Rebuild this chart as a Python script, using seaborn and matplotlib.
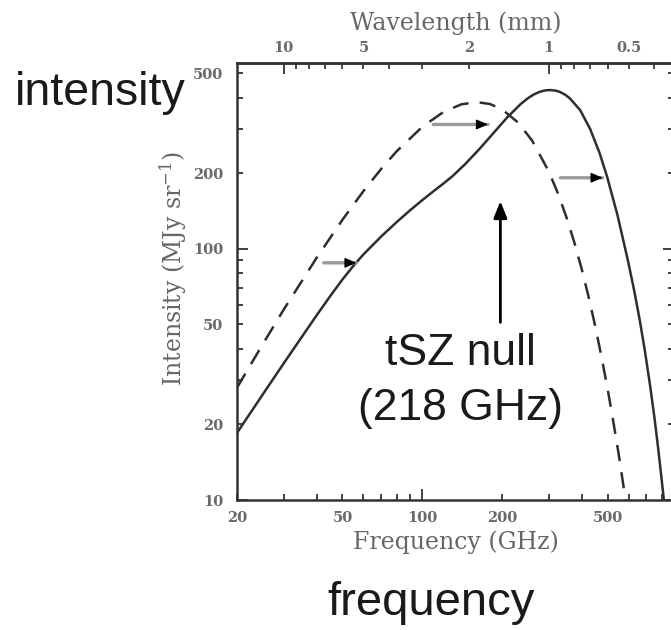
import numpy as np
import matplotlib
matplotlib.use("Agg")
import matplotlib.pyplot as plt
import matplotlib.ticker as mticker
import seaborn as sns

# undistorted CMB spectrum (dashed)
freq_cmb = [20, 25, 30, 40, 50, 60, 70, 80, 100, 120, 140, 160, 180, 200, 230, 260,
            300, 325, 350, 375, 400, 425, 450, 475, 500, 525, 550, 575, 600]
int_cmb = [28.0, 41.7, 57.3, 92.4, 130.7, 170.0, 208.4, 244.6, 306.4, 350.6, 376.2, 384.3,
           377.6, 359.4, 318.4, 269.2, 203.3, 166.1, 133.3, 105.6, 82.5, 63.7, 48.7, 36.8,
           27.7, 20.6, 15.3, 11.2, 8.2]

# SZ-distorted spectrum (solid)
freq_sz = [20, 25, 30, 35, 40, 45, 50, 55, 60, 70, 80, 90, 100, 110, 120, 130, 145, 165,
           190, 209, 235, 250, 262, 275, 285, 295, 305, 318, 330, 345, 360, 394, 430, 466,
           497, 545, 598, 630, 660, 690, 722, 750, 776, 808, 830]
int_sz = [18.5, 26.3, 35.0, 44.4, 54.5, 65.0, 75.6, 85.7, 95.1, 112.1, 127.8, 142.6, 156.4,
          169.4, 181.9, 194.9, 217.4, 251.3, 297.7, 333.8, 377.5, 397.9, 410.8, 420.9, 425.9,
          428.5, 429.1, 427, 422, 411.8, 398, 357, 299.7, 241.3, 195, 136.1, 88.8, 68.1,
          52.5, 39.7, 28.9, 21.5, 16.0, 10.9, 8.3]

# small grey shift arrows (start freq, end freq, intensity)
shift_start = [42.5, 110, 332]
shift_end = [56.5, 177, 479]
shift_level = [88, 313, 192]

# tSZ null arrow
null_freq = 197
null_from = 51
null_to = 155

XLIM = (20, 890)
YLIM = (10, 550)

sns.set_style("ticks")
plt.rcParams["font.family"] = ["DejaVu Serif"]
plt.rcParams["mathtext.fontset"] = "dejavuserif"

W, H = 671, 630
fig = plt.figure(figsize=(W / 100, H / 100), dpi=100)
ax = fig.add_axes([237 / W, 130 / H, 437 / W, 437 / H])

sns.lineplot(x=freq_cmb, y=int_cmb, ax=ax, color="#2e2e2e", lw=1.8,
             linestyle=(0, (6.5, 4.5)))
sns.lineplot(x=freq_sz, y=int_sz, ax=ax, color="#2e2e2e", lw=1.8)

ax.set_xscale("log")
ax.set_yscale("log")
ax.set_xlim(*XLIM)
ax.set_ylim(*YLIM)


def make_fmt(lo, hi):
    def fmt(v, pos=None):
        if v <= 0 or v < lo * 0.999 or v > hi * 1.001:
            return ""
        m = v / 10 ** np.floor(np.log10(v) + 1e-9)
        if abs(m - round(m)) < 1e-6 and round(m) in (1, 2, 5):
            return f"{v:g}"
        return ""
    return fmt


def style_axis(axis, lo, hi):
    axis.set_major_locator(mticker.LogLocator(base=10))
    axis.set_minor_locator(mticker.LogLocator(base=10, subs=np.arange(2, 10)))
    axis.set_major_formatter(mticker.FuncFormatter(make_fmt(lo, hi)))
    axis.set_minor_formatter(mticker.FuncFormatter(make_fmt(lo, hi)))


style_axis(ax.xaxis, *XLIM)
style_axis(ax.yaxis, *YLIM)

tick_kw = dict(which="both", direction="in", color="#333333", width=1.3,
               labelsize=10.5, labelcolor="#6a6a6a")
ax.tick_params(top=False, right=True, **tick_kw)
ax.tick_params(which="major", length=8)
ax.tick_params(which="minor", length=4)
ax.tick_params(axis="x", which="both", pad=8)
ax.tick_params(axis="y", which="both", pad=10)
for lab in ax.get_xticklabels(which="both") + ax.get_yticklabels(which="both"):
    lab.set_fontweight("bold")

for s in ax.spines.values():
    s.set_color("#333333")
    s.set_linewidth(1.8)


def nu2lam(x):
    x = np.asarray(x, dtype=float)
    with np.errstate(divide="ignore"):
        return 299.79 / np.where(x == 0, 1e-9, x)


sec = ax.secondary_xaxis("top", functions=(nu2lam, nu2lam))
style_axis(sec.xaxis, 299.79 / XLIM[1], 299.79 / XLIM[0])
sec.tick_params(**tick_kw, pad=6)
sec.tick_params(which="major", length=8)
sec.tick_params(which="minor", length=4)
for lab in sec.get_xticklabels(which="both"):
    lab.set_fontweight("bold")
sec.spines["top"].set_color("#333333")
sec.spines["top"].set_linewidth(1.8)

lab_kw = dict(fontsize=17, color="#666666")
ax.set_xlabel("Frequency (GHz)", labelpad=4, **lab_kw)
ax.set_ylabel("Intensity (MJy sr$^{-1}$)", labelpad=3, **lab_kw)
ax.yaxis.label.set_y(0.53)
sec.set_xlabel("Wavelength (mm)", labelpad=8, **lab_kw)

# shift arrows: grey shaft, black head
for x0, x1, yv in zip(shift_start, shift_end, shift_level):
    ax.annotate("", xy=(x1, yv), xytext=(x0, yv),
                arrowprops=dict(arrowstyle="-", color="#9a9a9a", lw=2.4,
                                shrinkA=0, shrinkB=0))
    ax.annotate("", xy=(x1, yv), xytext=(x1 * 0.93, yv),
                arrowprops=dict(arrowstyle="-|>,head_length=0.7,head_width=0.3",
                                color="black", lw=1, shrinkA=0, shrinkB=0))

ax.annotate("", xy=(null_freq, null_to), xytext=(null_freq, null_from),
            arrowprops=dict(arrowstyle="-|>,head_length=1.0,head_width=0.4",
                            color="black", lw=2, shrinkA=0, shrinkB=0))

big = dict(family=["Liberation Sans", "DejaVu Sans"], color="#1a1a1a")
fig.text(15 / W, 1 - 105 / H, "intensity", fontsize=33.5, ha="left", va="baseline", **big)
fig.text(431 / W, 1 - 615 / H, "frequency", fontsize=34, ha="center", va="baseline", **big)
fig.text(460 / W, 1 - 365 / H, "tSZ null", fontsize=32, ha="center", va="baseline", **big)
fig.text(460 / W, 1 - 420 / H, "(218 GHz)", fontsize=32, ha="center", va="baseline", **big)

fig.savefig("out.png", dpi=100)
